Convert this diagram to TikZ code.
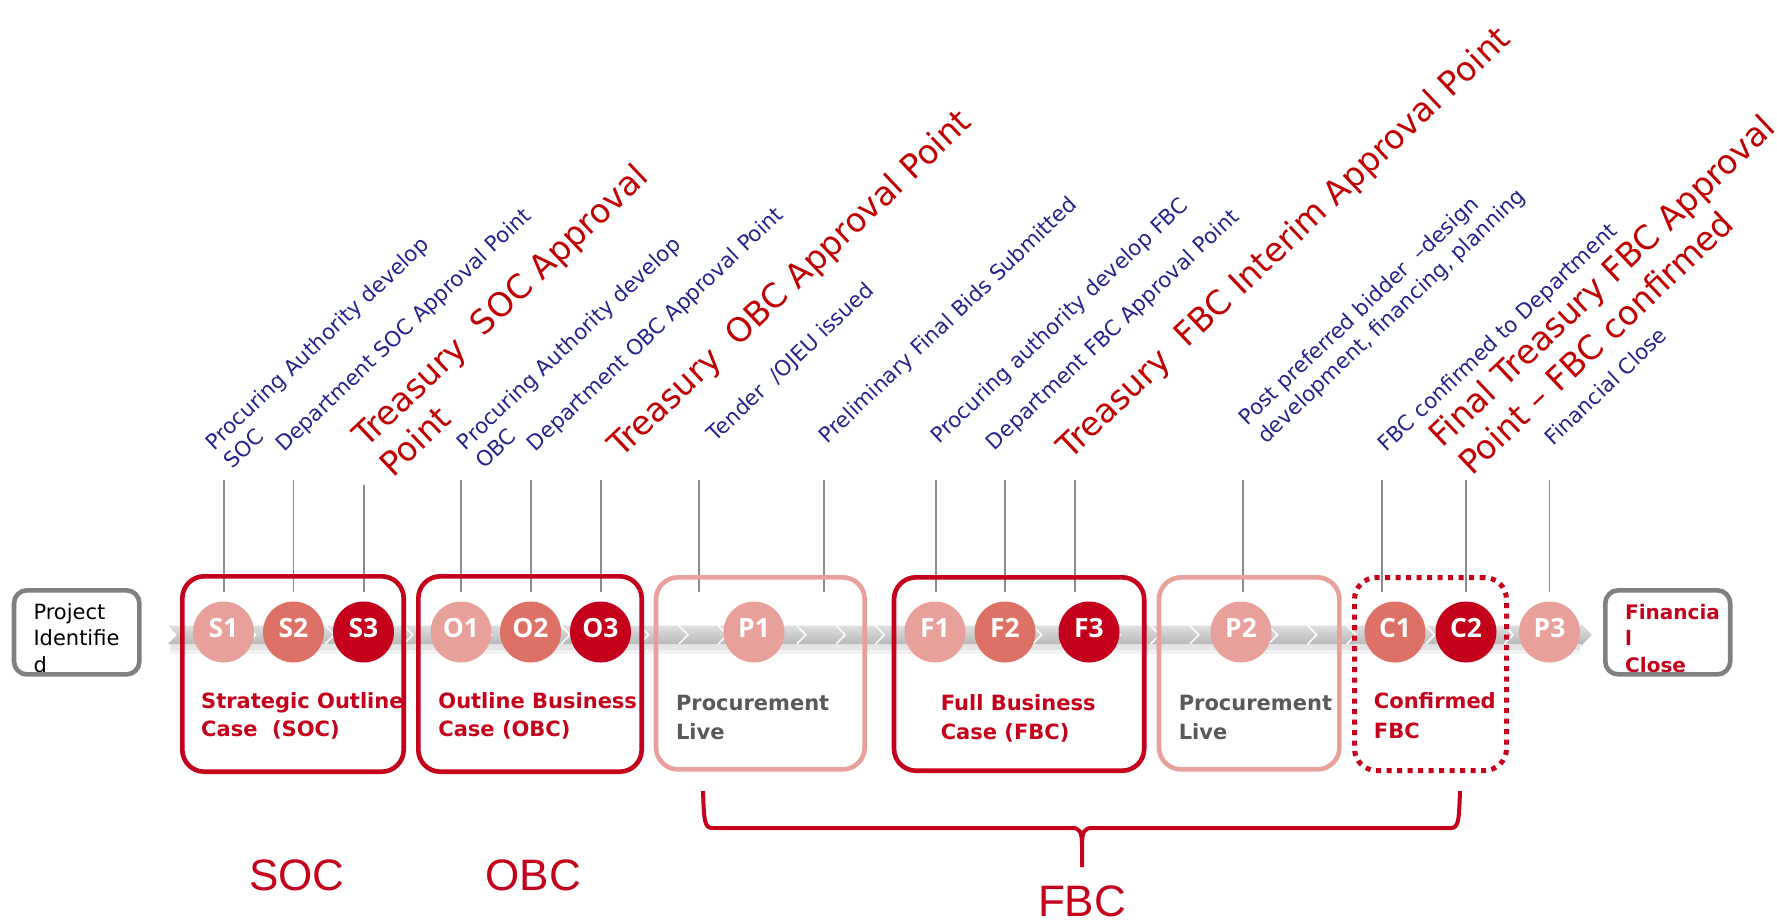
\documentclass[tikz,border=0pt]{standalone}
\usepackage{fontspec}
\setmainfont{DejaVu Sans}
\newfontfamily\arialf{Liberation Sans}
\newfontfamily\dotfont{Open Sans}
\definecolor{lpink}{HTML}{E8A09A}
\definecolor{mred}{HTML}{DD7166}
\definecolor{dred}{HTML}{C4001A}
\definecolor{ntext}{HTML}{23238C}
\definecolor{rtext}{HTML}{C00000}
\definecolor{gline}{HTML}{8C8C8C}
\definecolor{gbox}{HTML}{808080}
\definecolor{ptext}{HTML}{595959}
\begin{document}
\begin{tikzpicture}[x=1pt,y=-1pt,
  dot/.style={circle,minimum size=61pt,inner sep=0pt,draw=none},
  dotlbl/.style={text=white,font=\dotfont\fontsize{26.5}{26}\selectfont\bfseries,inner sep=0pt},
  tick/.style={draw=gline,line width=1.8pt},
  note/.style={rotate=43.5,anchor=base west,inner sep=0pt,text=ntext,font=\fontsize{21.3}{26}\selectfont},
  bignote/.style={rotate=43.5,anchor=base west,inner sep=0pt,text=rtext,font=\fontsize{33.3}{40}\selectfont},
  stagebox/.style={draw,line width=4.6pt,rounded corners=22pt,fill=none,inner sep=0pt},
  endbox/.style={draw=gbox,line width=4.6pt,rounded corners=13pt,fill=none,inner sep=0pt,minimum height=84.1pt},
  boxtext/.style={anchor=base west,inner sep=0pt,font=\fontsize{21}{25}\selectfont\bfseries},
  endtext/.style={anchor=base west,inner sep=0pt,font=\fontsize{21}{25}\selectfont},
  phase/.style={anchor=base,inner sep=0pt,text=dred,font=\arialf\fontsize{44}{48}\selectfont},
  chev/.style={draw=white,line width=1.5pt}
]
\useasboundingbox (0,0) rectangle (1777,922);

% ---- arrow band ----
\fill[black,opacity=0.10] (170,644) rectangle (1580,650);
\fill[black,opacity=0.05] (170,650) rectangle (1580,654);
\shade[top color=gray!22,bottom color=gray!58]
  (168,625.7) -- (1581,625.7) -- (1581,623.5) -- (1592,634.8) -- (1581,646)
  -- (1581,644) -- (168,644) -- (177,634.8) -- cycle;
\foreach \k in {1,...,35}{
  \pgfmathsetmacro{\cx}{168+39.3*\k}
  \draw[chev] (\cx,625.7) -- (\cx+9,634.8) -- (\cx,644);
}

% ---- ticks ----
\foreach \n/\tx/\ty in {t1/224/480,t2/293.5/480,t3/364/485,t4/461/480,t5/531/480,t6/601/480,
  t7/698.7/480,t8/824/480,t9/936/480,t10/1005/480,t11/1075/480,t12/1243/480,
  t13/1382/480,t14/1466/480,t15/1549.5/480}{
  \coordinate (\n top) at (\tx,\ty);
  \coordinate (\n bot) at (\tx,592);
  \draw[tick] (\n top) -- (\n bot);
}

% ---- milestone circles ----
\foreach \n/\cx/\col in {S1/223.5/lpink,S2/293.5/mred,S3/363.5/dred,
  O1/461/lpink,O2/530.5/mred,O3/600.5/dred,P1/754/lpink,
  F1/935/lpink,F2/1005/mred,F3/1089/dred,P2/1241/lpink,
  C1/1395/mred,C2/1466/dred,P3/1549.5/lpink}{
  \node[dot,fill=\col] (\n) at (\cx,632) {};
  \node[dotlbl] (\n lbl) at (\cx,628) {\n};
}

% ---- stage boxes ----
\node[stagebox,draw=dred,minimum width=221.4pt,minimum height=195.4pt] (socbox) at (293,674) {};
\node[stagebox,draw=dred,minimum width=223.4pt,minimum height=195.4pt] (obcbox) at (530,674) {};
\node[stagebox,draw=lpink,minimum width=208.7pt,minimum height=192pt] (pl1box) at (760.35,673.35) {};
\node[stagebox,draw=dred,minimum width=250.2pt,minimum height=193.4pt] (fbcbox) at (1019.1,674) {};
\node[stagebox,draw=lpink,minimum width=180.4pt,minimum height=192pt] (pl2box) at (1249.2,673.35) {};
\node[stagebox,draw=dred,line width=5pt,dash pattern=on 5pt off 5.5pt,minimum width=152pt,minimum height=193pt] (cfbox) at (1430.5,674) {};

\node[boxtext,text=dred] (soct1) at (201,708.3) {Strategic Outline};
\node[boxtext,text=dred] (soct2) at (201,736.7) {Case\ \ (SOC)};
\node[boxtext,text=dred] (obct1) at (438.2,708.3) {Outline Business};
\node[boxtext,text=dred] (obct2) at (438.2,736.7) {Case (OBC)};
\node[boxtext,text=ptext] (pl1t1) at (675.8,710) {Procurement};
\node[boxtext,text=ptext] (pl1t2) at (675.8,739) {Live};
\node[boxtext,text=dred] (fbct1) at (940.6,710) {Full Business};
\node[boxtext,text=dred] (fbct2) at (940.6,739) {Case (FBC)};
\node[boxtext,text=ptext] (pl2t1) at (1178.6,710) {Procurement};
\node[boxtext,text=ptext] (pl2t2) at (1178.6,739) {Live};
\node[boxtext,text=dred] (cft1) at (1373.7,708) {Confirmed};
\node[boxtext,text=dred] (cft2) at (1373.7,738) {FBC};

% ---- end boxes ----
\node[endtext,text=black] (pit1) at (33.3,619.3) {Project};
\node[endtext,text=black] (pit2) at (33.3,645.7) {Identifie};
\node[endtext,text=black] (pit3) at (33.3,672) {d};
\node[endtext,text=dred,font=\fontsize{20}{24}\selectfont\bfseries] (fct1) at (1625,619.3) {Financia};
\node[endtext,text=dred,font=\fontsize{20}{24}\selectfont\bfseries] (fct2) at (1625,645.7) {l};
\node[endtext,text=dred,font=\fontsize{20}{24}\selectfont\bfseries] (fct3) at (1625,672) {Close};
\node[endbox,minimum width=125.4pt] (pibox) at (76.7,632.35) {};
\node[endbox,minimum width=124.9pt] (fcbox) at (1667.75,632.35) {};

% ---- rotated annotations ----
\node[note] (a1) at (214.2,451.2) {Procuring Authority develop};
\node[note] (a1b) at (232.3,469.9) {SOC};
\node[note] (a2) at (284.2,452.8) {Department SOC Approval Point};
\node[bignote] (a3) at (365.9,448.9) {Treasury\ \ SOC Approval};
\node[bignote] (a3b) at (393,478.5) {Point};
\node[note] (a4) at (465.8,451.2) {Procuring Authority develop};
\node[note] (a4b) at (483.9,469.9) {OBC};
\node[note] (a5) at (535.8,452.2) {Department OBC Approval Point};
\node[bignote] (a6) at (620.9,458.9) {Treasury\ \ OBC Approval Point};
\node[note] (a7) at (715.8,442.8) {Tender\ \ /OJEU issued};
\node[note] (a8) at (827.5,444.5) {Preliminary Final Bids Submitted};
\node[note] (a9) at (939.2,444.5) {Procuring authority develop FBC};
\node[note] (a10) at (994.8,451.2) {Department FBC Approval Point};
\node[bignote] (a11) at (1069.9,460.5) {Treasury\ \ FBC Interim Approval Point};
\node[note] (a12) at (1247.5,426.2) {Post preferred bidder\ \ –design};
\node[note] (a12b) at (1266,444.7) {development, financing, planning};
\node[note] (a13) at (1386.5,452.8) {FBC confirmed to Department};
\node[bignote] (a14) at (1442,448.7) {Final Treasury FBC Approval};
\node[bignote] (a14b) at (1472,477) {Point – FBC confirmed};
\node[note] (a15) at (1553.5,446.2) {Financial Close};

% ---- brace ----
\coordinate (brL) at (703,791);
\coordinate (brR) at (1460,791);
\coordinate (brT) at (1082,867);
\draw[dred,line width=4pt,line join=round]
  (brL) .. controls (704,818) and (704,828) .. (712,828) -- (1072,828)
  .. controls (1080,828) and (1082,832) .. (1082,846) -- (brT);
\draw[dred,line width=4pt,line join=round]
  (brR) .. controls (1459,818) and (1459,828) .. (1451,828) -- (1092,828)
  .. controls (1084,828) and (1082,832) .. (1082,846);

% ---- phase labels ----
\node[phase] (socl) at (297,890) {SOC};
\node[phase] (obcl) at (533.3,890) {OBC};
\node[phase] (fbcl) at (1082,916.5) {FBC};
\end{tikzpicture}
\end{document}
